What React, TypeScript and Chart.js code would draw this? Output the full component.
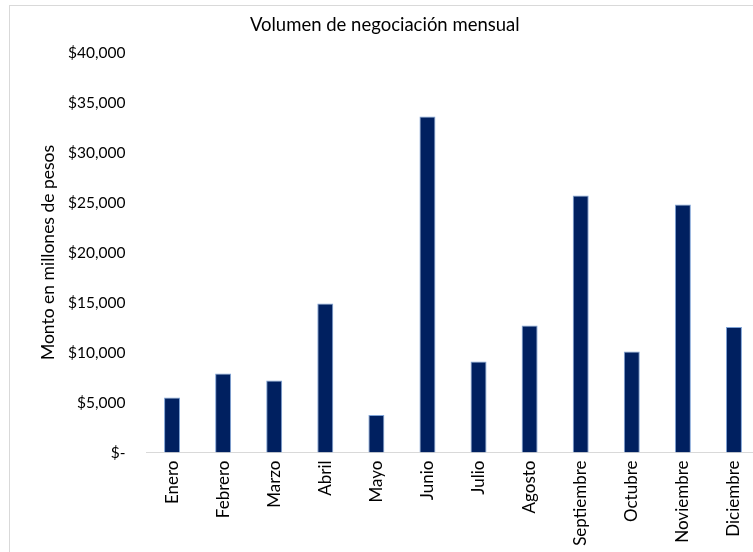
import React, { useEffect, useRef } from "react";
import { Chart, registerables } from "chart.js";

Chart.register(...registerables);

const months = [
  "Enero", "Febrero", "Marzo", "Abril", "Mayo", "Junio",
  "Julio", "Agosto", "Septiembre", "Octubre", "Noviembre", "Diciembre",
];
const volumes = [5500, 7900, 7200, 14900, 3750, 33600, 9100, 12700, 25700, 10100, 24800, 12550];
const yTickLabels = ["$-", "$5,000", "$10,000", "$15,000", "$20,000", "$25,000", "$30,000", "$35,000", "$40,000"];
const chartTitle = "Volumen de negociación mensual";
const yAxisTitle = "Monto en millones de pesos";

const FONT = "Lato, 'Noto Sans', sans-serif";

export default function App() {
  const ref = useRef<HTMLCanvasElement | null>(null);

  useEffect(() => {
    if (!ref.current) return;
    const chart = new Chart(ref.current, {
      type: "bar",
      data: {
        labels: months,
        datasets: [
          {
            data: volumes,
            backgroundColor: "#002060",
            borderColor: "#7fa3d6",
            borderWidth: 1,
            barPercentage: 0.313,
            categoryPercentage: 1,
          },
        ],
      },
      options: {
        animation: false,
        responsive: false,
        maintainAspectRatio: false,
        layout: { padding: { left: 0, right: 6.5, top: 0, bottom: 0 } },
        plugins: {
          legend: { display: false },
          tooltip: { enabled: false },
          title: {
            display: true,
            text: chartTitle,
            color: "#000000",
            font: { family: FONT, size: 18.5, weight: "normal" },
            padding: { top: 7.9, bottom: 16.4 },
          },
        },
        scales: {
          x: {
            grid: { display: false, drawTicks: false },
            border: { display: true, color: "#d9d9d9", width: 1 },
            ticks: {
              color: "#000000",
              font: { family: FONT, size: 17 },
              minRotation: 90,
              maxRotation: 90,
              padding: 8,
              autoSkip: false,
            },
            afterFit: (s: any) => {
              s.height = 107.5;
            },
          },
          y: {
            min: 0,
            max: 40000,
            grid: { display: false, drawTicks: false },
            border: { display: false },
            ticks: {
              stepSize: 5000,
              color: "#000000",
              font: { family: FONT, size: 15.5 },
              padding: 21,
              callback: (v: any) => yTickLabels[Math.round(Number(v) / 5000)],
            },
            title: {
              display: true,
              text: yAxisTitle,
              color: "#000000",
              font: { family: FONT, size: 17.5 },
              padding: { top: 27.5, bottom: 0 },
            },
            afterFit: (s: any) => {
              s.width = 136.5;
            },
          },
        },
      },
    });
    return () => chart.destroy();
  }, []);

  return (
    <div
      style={{
        position: "fixed",
        left: 9,
        top: 5,
        width: 758,
        height: 560,
        border: "1px solid #d9d9d9",
        boxSizing: "border-box",
        background: "#ffffff",
      }}
    >
      <canvas ref={ref} width={756} height={554} style={{ display: "block" }} />
    </div>
  );
}
